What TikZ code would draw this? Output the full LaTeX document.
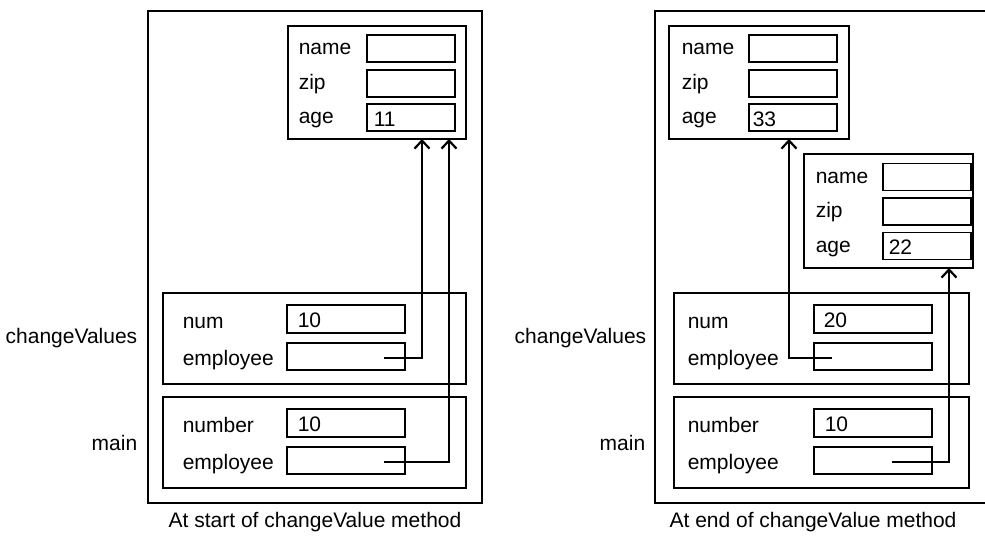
\documentclass[tikz,border=0pt]{standalone}
\usepackage{fontspec}
\setmainfont{Liberation Sans}
\usetikzlibrary{arrows.meta}
\begin{document}
\begin{tikzpicture}[x=1pt,y=-1pt,line width=1.5pt,
  txt/.style={font=\fontsize{21}{25}\selectfont, inner sep=0pt, anchor=base west},
  rtxt/.style={font=\fontsize{21}{25}\selectfont, inner sep=0pt, anchor=base east},
  ctxt/.style={font=\fontsize{21}{25}\selectfont, inner sep=0pt, anchor=base},
  box/.style 2 args={draw, line width=1.5pt, inner sep=0pt, minimum width=#1, minimum height=#2},
  arr/.style={line width=1.5pt, -{Straight Barb[length=8pt,width=15pt,line width=2.2pt]}}
]
\useasboundingbox (0,0) rectangle (985,539);

% ---------------- left panel ----------------
\node[box={334}{492}] (outL) at (315,257) {};
\node[box={178}{113}] (objL) at (377,82.5) {};
\node[box={88}{27}] (nameL) at (411,48.5) {};
\node[box={88}{27}] (zipL) at (411,83.5) {};
\node[box={88}{27}] (ageL) at (411,117.5) {};
\node[txt] (lnameL) at (298,54.5) {name};
\node[txt] (lzipL) at (298,89.5) {zip};
\node[txt] (lageL) at (298,123.5) {age};
\node[txt] (vageL) at (373,126) {11};

\node[box={303}{91}] (cvL) at (314.5,338.5) {};
\node[box={118}{28}] (numL) at (346,319) {};
\node[box={118}{27}] (empL) at (346,356.5) {};
\node[txt] (lnumL) at (182,328) {num};
\node[txt] (lempL) at (182,365) {employee};
\node[txt] (vnumL) at (297,327.5) {10};

\node[box={303}{91}] (mainL) at (314.5,442.5) {};
\node[box={118}{28}] (numberL) at (346,423) {};
\node[box={118}{27}] (emp2L) at (346,460.5) {};
\node[txt] (lnumberL) at (182,432) {number};
\node[txt] (lemp2L) at (182,469) {employee};
\node[txt] (vnumberL) at (297,431.5) {10};

\node[rtxt] (cvlabL) at (138,343.5) {changeValues};
\node[rtxt] (mainlabL) at (138,450) {main};
\node[ctxt] (capL) at (315,527) {At start of changeValue method};

\coordinate (sL1) at (384,358);
\coordinate (tL1) at (422,139);
\coordinate (sL2) at (384,462);
\coordinate (tL2) at (449,139);
\draw[arr] (sL1) -| (tL1);
\draw[arr] (sL2) -| (tL2);

% ---------------- right panel ----------------
\draw (985,11) -- (655,11) -- (655,503) -- (985,503);

\node[box={180}{113}] (obj1R) at (759,82.5) {};
\node[box={88}{27}] (name1R) at (793,48.5) {};
\node[box={88}{27}] (zip1R) at (793,83.5) {};
\node[box={88}{27}] (age1R) at (793,117.5) {};
\node[txt] (lname1R) at (681,54.5) {name};
\node[txt] (lzip1R) at (681,89.5) {zip};
\node[txt] (lage1R) at (681,123.5) {age};
\node[txt] (vage1R) at (752,126) {33};

\node[box={169}{114}] (obj2R) at (888.5,211) {};
\node[box={88}{27}] (name2R) at (927,177) {};
\node[box={88}{27}] (zip2R) at (927,211.5) {};
\node[box={88}{27}] (age2R) at (927,246) {};
\node[txt] (lname2R) at (815,183) {name};
\node[txt] (lzip2R) at (815,217.5) {zip};
\node[txt] (lage2R) at (815,252) {age};
\node[txt] (vage2R) at (888,254.5) {22};

\node[box={295}{91}] (cvR) at (821.5,338.5) {};
\node[box={118}{28}] (numR) at (873,319) {};
\node[box={118}{27}] (empR) at (873,356.5) {};
\node[txt] (lnumR) at (687,328) {num};
\node[txt] (lempR) at (687,365) {employee};
\node[txt] (vnumR) at (823,327.5) {20};

\node[box={295}{91}] (mainR) at (821.5,442.5) {};
\node[box={118}{28}] (numberR) at (873,423) {};
\node[box={118}{27}] (emp2R) at (873,460.5) {};
\node[txt] (lnumberR) at (687,432) {number};
\node[txt] (lemp2R) at (687,469) {employee};
\node[txt] (vnumberR) at (824,431.5) {10};

\node[rtxt] (cvlabR) at (647,343.5) {changeValues};
\node[rtxt] (mainlabR) at (646,450) {main};
\node[ctxt] (capR) at (813,527) {At end of changeValue method};

\coordinate (sR1) at (832,358);
\coordinate (tR1) at (789,139);
\coordinate (sR2) at (892,462);
\coordinate (tR2) at (949,268);
\draw[arr] (sR1) -| (tR1);
\draw[arr] (sR2) -| (tR2);
\end{tikzpicture}
\end{document}
